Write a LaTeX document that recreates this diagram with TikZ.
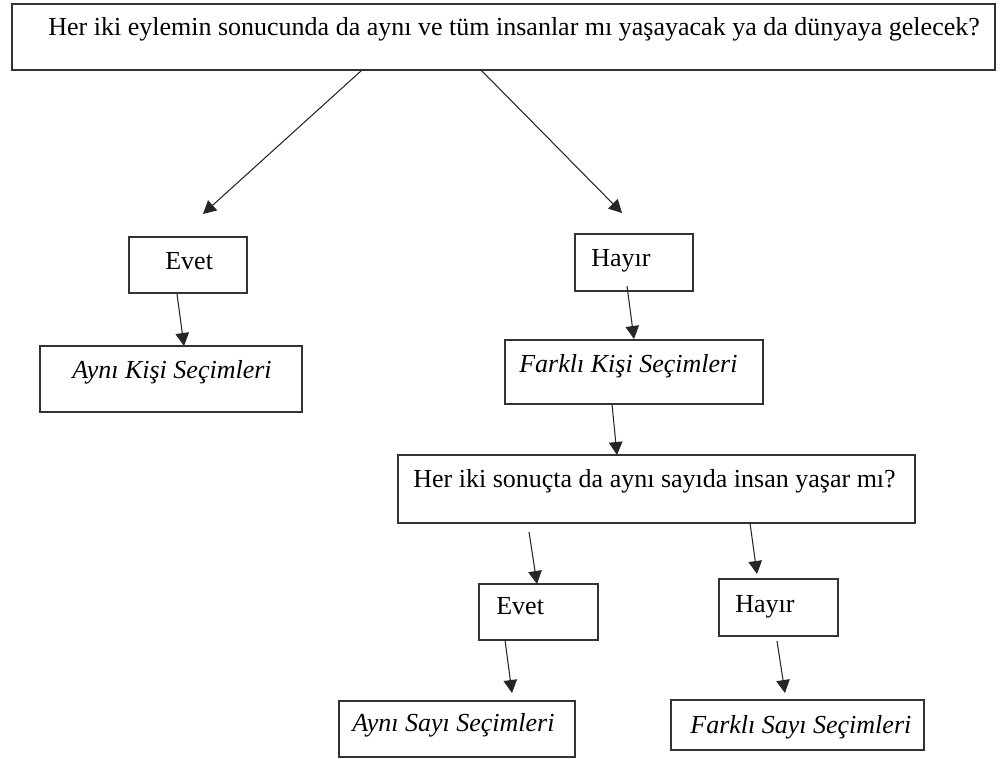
\documentclass[tikz,border=0pt]{standalone}
\usepackage{fontspec}
\setmainfont{Liberation Serif}
\usetikzlibrary{calc,arrows.meta}
\newcommand\mkbox[5]{\node[boxst, minimum width={(#4-#2)*0.02cm}, minimum height={(#5-#3)*0.02cm}] (#1) at ({(#2+#4)/2},{(#3+#5)/2}) {};}
\tikzset{
  boxst/.style={draw=black!80, line width=0.7pt, rectangle, inner sep=0pt, outer sep=0pt},
  txt/.style={inner sep=0pt, anchor=base west, font=\fontsize{14.8pt}{17pt}\selectfont},
  arr/.style={draw=black!85, line width=0.6pt, -{Triangle[length=0.26cm,width=0.27cm]}}
}
\begin{document}
\begin{tikzpicture}[x=0.02cm,y=-0.02cm]
\useasboundingbox (0,0) rectangle (1000,758);
% boxes
\mkbox{top}{12}{4}{995}{70}
\mkbox{evetA}{129}{237}{247}{293}
\mkbox{hayirA}{575}{234}{693}{291}
\mkbox{ayniKisi}{40}{346}{302}{412}
\mkbox{farkliKisi}{505}{340}{763}{404}
\mkbox{sorub}{398}{455}{915}{523}
\mkbox{evetB}{479}{584}{598}{640}
\mkbox{hayirB}{719}{579}{838}{636}
\mkbox{ayniSayi}{339}{701}{575}{757}
\mkbox{farkliSayi}{671}{700}{924}{750}
% texts
\node[txt] (tTop) at (48,35) {Her iki eylemin sonucunda da aynı ve tüm insanlar mı yaşayacak ya da dünyaya gelecek?};
\node[txt] (tEvetA) at (165,269) {Evet};
\node[txt] (tHayirA) at (591,266) {Hayır};
\node[txt] (tAyniKisi) at (72,378) {\itshape Aynı Kişi Seçimleri};
\node[txt] (tFarkliKisi) at (519,372) {\itshape Farklı Kişi Seçimleri};
\node[txt] (tSoru) at (413,487) {Her iki sonuçta da aynı sayıda insan yaşar mı?};
\node[txt] (tEvetB) at (496,614) {Evet};
\node[txt] (tHayirB) at (735,612) {Hayır};
\node[txt] (tAyniSayi) at (352,731) {\itshape Aynı Sayı Seçimleri};
\node[txt] (tFarkliSayi) at (690,733) {\itshape Farklı Sayı Seçimleri};
% arrows
\draw[arr] ($(top.south west)+(350,0)$) -- ($(evetA.north west)+(74,-23)$);
\draw[arr] ($(top.south west)+(469,0)$) -- ($(hayirA.north west)+(47,-21)$);
\draw[arr] ($(evetA.south west)+(48,1)$) -- ($(ayniKisi.north west)+(144,0)$);
\draw[arr] ($(hayirA.south west)+(52,-5)$) -- ($(farkliKisi.north west)+(129,-1)$);
\draw[arr] ($(farkliKisi.south west)+(107,0)$) -- ($(sorub.north west)+(219,0)$);
\draw[arr] ($(sorub.south west)+(131,9)$) -- ($(evetB.north west)+(58,0)$);
\draw[arr] ($(sorub.south west)+(352,0)$) -- ($(hayirB.north west)+(38,-5)$);
\draw[arr] ($(evetB.south west)+(26,0)$) -- ($(ayniSayi.north west)+(173,-8)$);
\draw[arr] ($(hayirB.south west)+(58,5)$) -- ($(farkliSayi.north west)+(114,-7)$);
\end{tikzpicture}
\end{document}
